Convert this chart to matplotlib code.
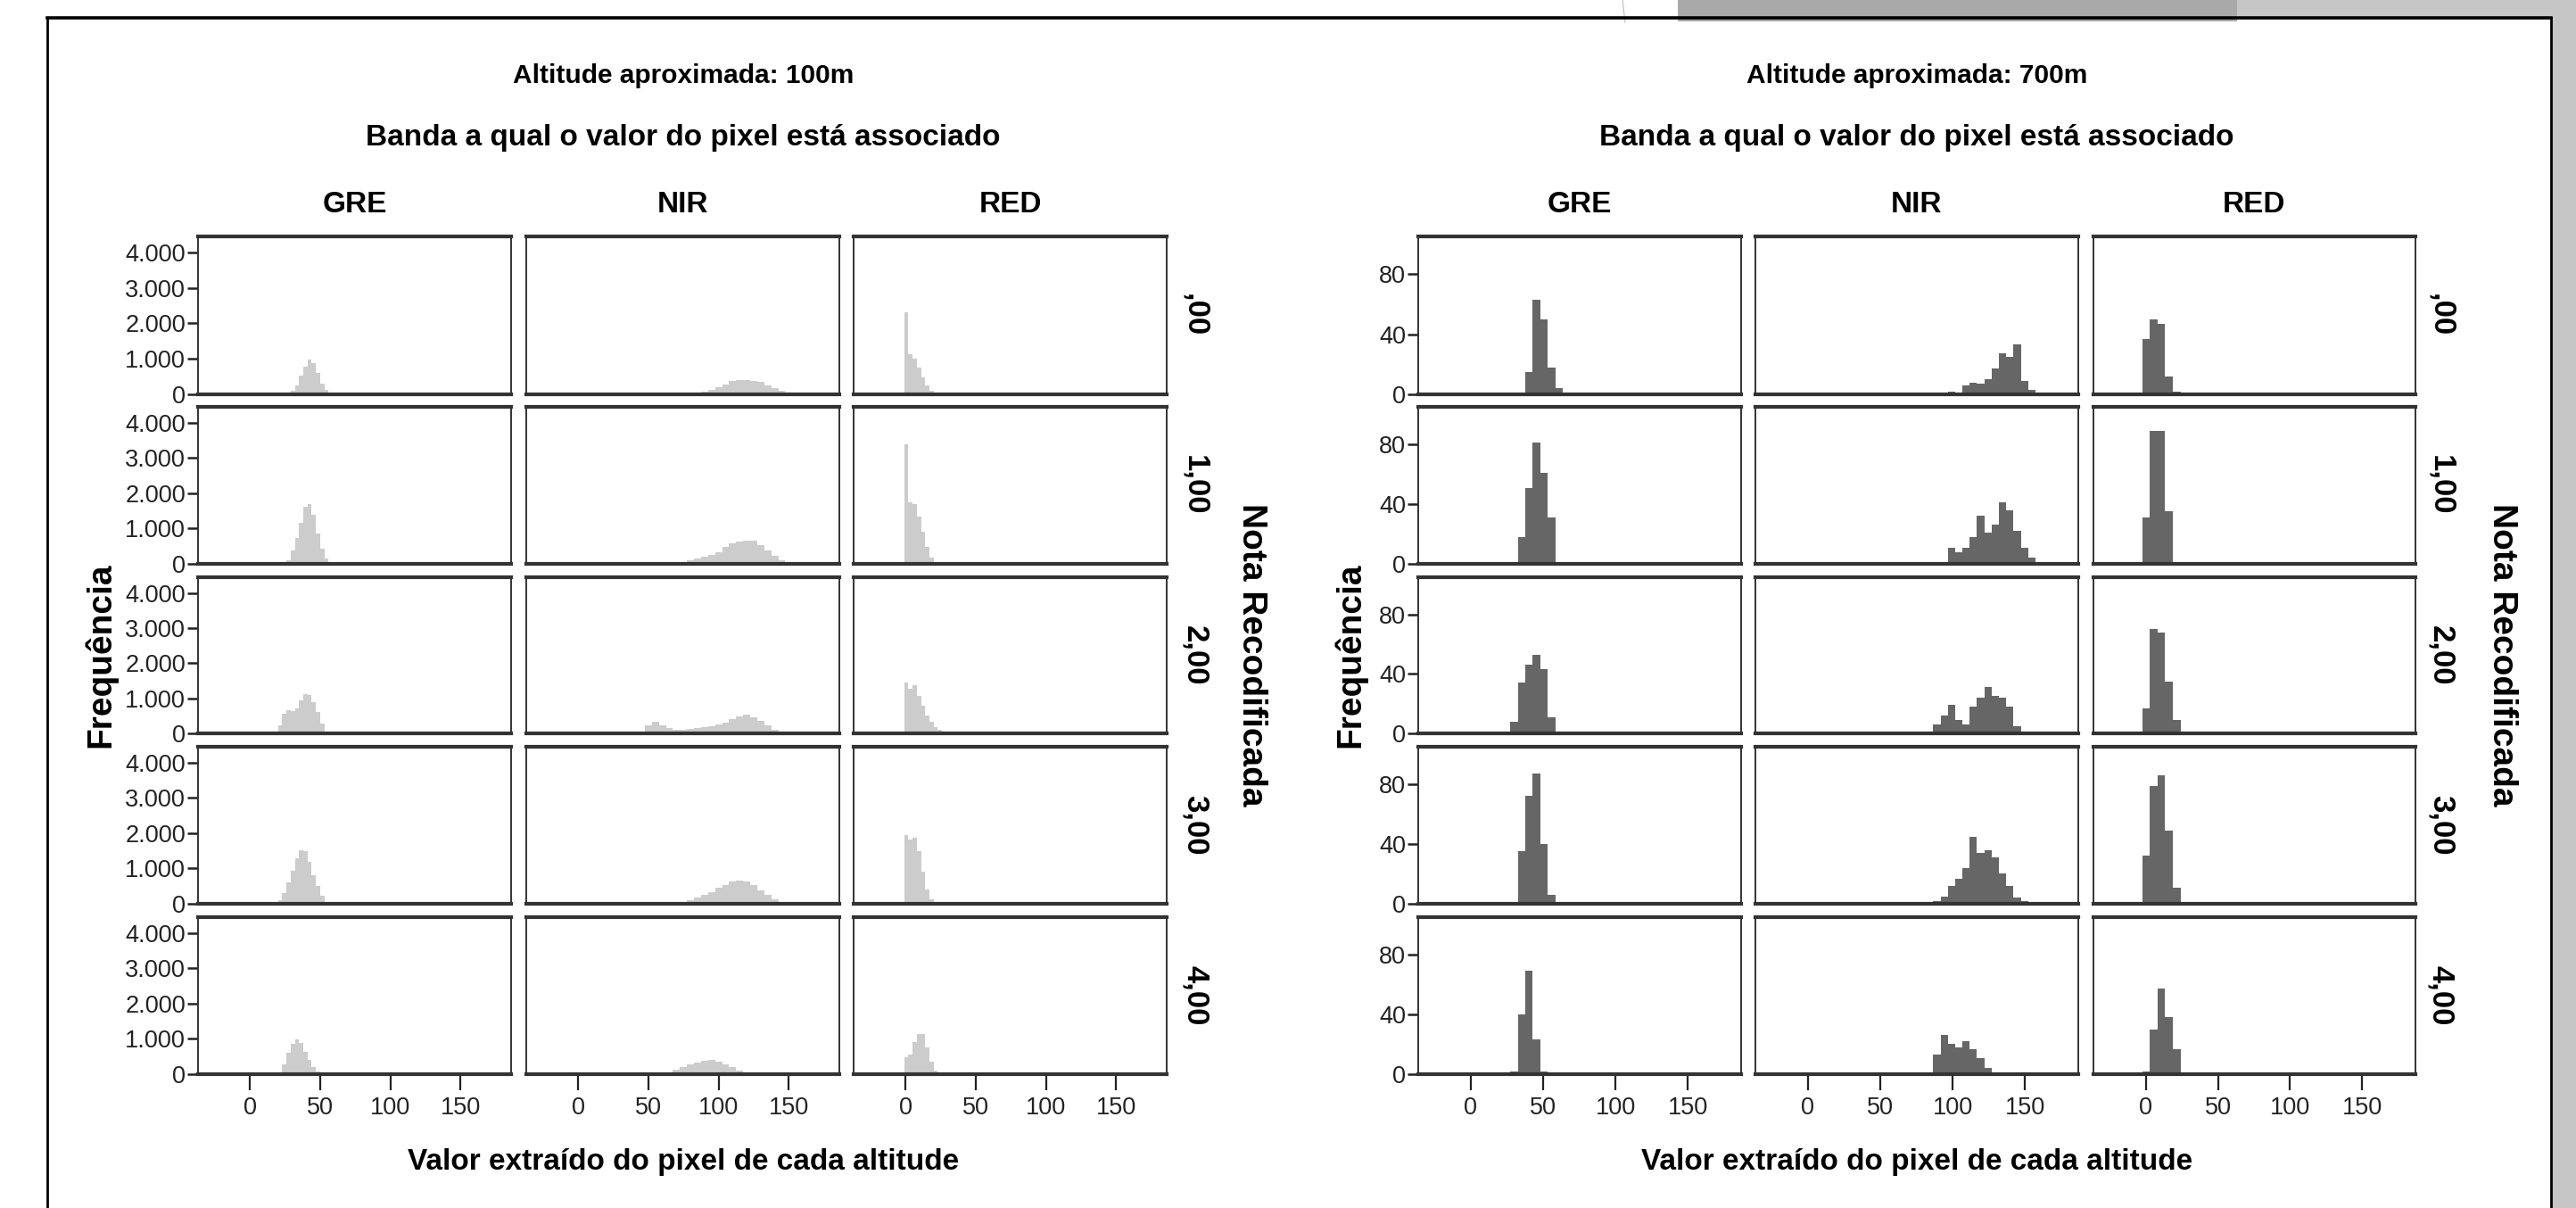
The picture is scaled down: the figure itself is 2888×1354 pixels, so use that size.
import numpy as np
import matplotlib
matplotlib.use("Agg")
import matplotlib.pyplot as plt
from matplotlib.patches import Rectangle
from matplotlib.lines import Line2D

# ---------------- data ----------------
BANDS = ["GRE", "NIR", "RED"]
ROW_LABELS = [",00", "1,00", "2,00", "3,00", "4,00"]
TITLE_100 = "Altitude aproximada: 100m"
TITLE_700 = "Altitude aproximada: 700m"
SUBTITLE = "Banda a qual o valor do pixel está associado"
XLABEL = "Valor extraído do pixel de cada altitude"
YLABEL = "Frequência"
ROWTITLE = "Nota Recodificada"

X_TICKS = [0, 50, 100, 150]
Y_TICKS_100 = [0, 1000, 2000, 3000, 4000]
Y_TICKLABELS_100 = ["0", "1.000", "2.000", "3.000", "4.000"]
Y_TICKS_700 = [0, 40, 80]

# --- 100 m (bin centres, counts per row) ---
gre100_x = [18.5, 21.5, 24.5, 27.5, 30.5, 33.5, 36.5, 39.5, 42.5, 45.5, 48.5, 51.5, 54.5, 57.5, 60.5]
gre100_w = 3.0
gre100 = [
    [0, 3, 13, 40, 110, 260, 530, 790, 990, 890, 600, 310, 115, 30, 8],
    [0, 0, 8, 100, 390, 740, 1170, 1610, 1700, 1380, 850, 430, 150, 40, 8],
    [20, 240, 560, 650, 630, 710, 940, 1130, 1090, 880, 600, 280, 60, 5, 0],
    [5, 90, 300, 610, 930, 1290, 1520, 1500, 1190, 820, 500, 230, 60, 5, 0],
    [0, 60, 290, 600, 860, 980, 880, 630, 400, 200, 80, 20, 0, 0, 0],
]
nir100_x = [45, 50, 55, 60, 65, 70, 75, 80, 85, 90, 95, 100, 105, 110, 115, 120,
            125, 130, 135, 140, 145, 150, 155]
nir100_w = 5.0
nir100 = [
    [0, 0, 0, 0, 0, 0, 0, 10, 40, 80, 130, 190, 280, 370, 400, 400, 380, 340, 260, 180, 90, 35, 10],
    [0, 0, 0, 0, 10, 30, 60, 100, 150, 200, 250, 330, 470, 570, 620, 660, 650, 530, 370, 230, 110, 40, 10],
    [40, 220, 320, 220, 140, 110, 110, 120, 140, 170, 210, 250, 300, 400, 480, 530, 470, 350, 220, 110, 40, 10, 0],
    [0, 0, 0, 0, 10, 30, 60, 110, 170, 250, 330, 450, 540, 620, 660, 620, 530, 380, 250, 130, 50, 15, 0],
    [0, 0, 0, 20, 60, 120, 200, 270, 330, 380, 400, 350, 280, 190, 110, 60, 25, 5, 0, 0, 0, 0, 0],
]
red100_x = [0.5, 3.5, 6.5, 9.5, 12.5, 15.5, 18.5, 21.5, 24.5, 27.5, 30.5, 33.5, 36.5]
red100_w = 3.0
red100 = [
    [2320, 1140, 1000, 750, 480, 250, 100, 30, 0, 0, 0, 0, 0],
    [3400, 1740, 1700, 1350, 900, 480, 170, 40, 0, 0, 0, 0, 0],
    [1450, 1270, 1370, 1070, 800, 510, 320, 190, 110, 60, 30, 10, 0],
    [1950, 1830, 1860, 1500, 900, 400, 120, 20, 0, 0, 0, 0, 0],
    [470, 560, 900, 1150, 1130, 760, 360, 110, 20, 0, 0, 0, 0],
]

# --- 700 m (bin left edges, counts per row) ---
gre700_left = [22.3, 27.45, 32.6, 37.75, 42.9, 48.05, 53.2, 58.35]
gre700_w = 5.15
gre700 = [
    [0, 0, 1, 15, 63, 50, 18, 4],
    [0, 1, 18, 51, 81, 61, 31, 0],
    [1, 8, 34, 46, 53, 43, 11, 1],
    [0, 1, 35, 72, 87, 40, 6, 0],
    [0, 2, 40, 69, 23, 2, 0, 0],
]
nir700_left = [81.6, 86.65, 91.7, 96.75, 101.8, 106.85, 111.9, 116.95, 122.0, 127.05,
               132.1, 137.15, 142.2, 147.25, 152.3, 157.35, 162.4]
nir700_w = 5.05
nir700 = [
    [0, 0, 0, 2, 0, 6, 8, 7, 10, 17, 27, 25, 33, 9, 3, 1, 0],
    [0, 0, 0, 11, 8, 11, 18, 32, 21, 26, 41, 36, 22, 11, 4, 0, 0],
    [0, 6, 12, 19, 9, 6, 18, 24, 31, 25, 24, 18, 5, 0, 0, 0, 0],
    [0, 2, 5, 12, 17, 24, 45, 34, 36, 31, 20, 12, 4, 2, 0, 0, 0],
    [1, 13, 26, 20, 18, 22, 17, 11, 4, 0, 0, 0, 0, 0, 0, 0, 0],
]
red700_left = [-2.5, 2.8, 8.1, 13.4, 18.7]
red700_w = 5.3
red700 = [
    [37, 50, 47, 12, 2],
    [31, 89, 89, 35, 1],
    [17, 70, 68, 35, 9],
    [32, 79, 86, 49, 11],
    [2, 30, 57, 38, 17],
]

# ---------------- fonts ----------------
SANS = dict(family=["Liberation Sans", "DejaVu Sans"])
BOLD = dict(family=["Liberation Sans", "DejaVu Sans"], weight="bold")

# ---------------- figure ----------------
W, H = 2888, 1354
DPI = 100
fig = plt.figure(figsize=(W / DPI, H / DPI), dpi=DPI)
fig.patch.set_facecolor("white")


def P(x, y):
    return x / W, 1 - y / H


def rect(x0, y0, x1, y1):
    return [x0 / W, 1 - y1 / H, (x1 - x0) / W, (y1 - y0) / H]


# decorations (slide frame)
fig.patches.append(Rectangle(P(1881, 24), (2508 - 1881) / W, 24 / H, transform=fig.transFigure,
                             facecolor="#a9a9a9", edgecolor="none", zorder=0))
fig.patches.append(Rectangle(P(2508, 22), (W - 2508) / W, 22 / H, transform=fig.transFigure,
                             facecolor="#c6c6c6", edgecolor="none", zorder=0))
fig.patches.append(Rectangle(P(2861, H), (W - 2861) / W, 1, transform=fig.transFigure,
                             facecolor="#c6c6c6", edgecolor="none", zorder=0))
fig.lines.append(Line2D([1819 / W, 1822 / W], [1, 1 - 25 / H], transform=fig.transFigure,
                        color="#bbbbbb", lw=0.8))
fig.lines.append(Line2D([53 / W, 2860 / W], [1 - 20 / H, 1 - 20 / H], transform=fig.transFigure,
                        color="black", lw=2.6))
fig.lines.append(Line2D([53 / W, 53 / W], [1 - 20 / H, 0], transform=fig.transFigure,
                        color="black", lw=2.0))
fig.lines.append(Line2D([2860 / W, 2860 / W], [1 - 20 / H, 0], transform=fig.transFigure,
                        color="black", lw=2.0))

ROWS = [(265, 442), (456, 632), (647, 822), (837, 1013), (1028, 1204)]
COLS_100 = [(222, 573), (590, 941), (957, 1308)]
COLS_700 = [(1590, 1952), (1968, 2330), (2347, 2708)]

SPINE_C = "#333333"


def style_axes(ax, xlim, ylim, show_y, show_x, yticks, yticklabels):
    ax.set_xlim(*xlim)
    ax.set_ylim(*ylim)
    for s in ["top", "bottom"]:
        ax.spines[s].set_linewidth(3.0)
        ax.spines[s].set_color(SPINE_C)
    for s in ["left", "right"]:
        ax.spines[s].set_linewidth(1.4)
        ax.spines[s].set_color(SPINE_C)
    ax.set_facecolor("white")
    if show_y:
        ax.set_yticks(yticks)
        ax.set_yticklabels(yticklabels, fontsize=19.5, color="#222222", **SANS)
        ax.tick_params(axis="y", length=9, width=1.8, pad=1, color="#222222")
    else:
        ax.set_yticks([])
    if show_x:
        ax.set_xticks(X_TICKS)
        ax.set_xticklabels([str(t) for t in X_TICKS], fontsize=19.5, color="#222222", **SANS)
        ax.tick_params(axis="x", length=13, width=1.6, pad=5, color="#222222")
    else:
        ax.set_xticks([])


def draw_chart(cols, data, kind, xlim, ylim, yticks, yticklabels, title, cx,
               rowlab_x, rowtitle_x, ylabel_x):
    for ci, (band, (x0, x1)) in enumerate(zip(BANDS, cols)):
        xs, w, rows = data[band]
        for ri, (y0, y1) in enumerate(ROWS):
            ax = fig.add_axes(rect(x0, y0, x1, y1))
            if kind == "centre":
                ax.bar(xs, rows[ri], width=w, align="center", color="#cccccc",
                       linewidth=0, zorder=1)
            else:
                ax.bar(xs, rows[ri], width=w, align="edge", color="#666666",
                       linewidth=0, zorder=1)
            style_axes(ax, xlim, ylim, ci == 0, ri == len(ROWS) - 1, yticks, yticklabels)
        fig.text(*P((x0 + x1) / 2, 230), band, ha="center", va="center", fontsize=24, **BOLD)
    for ri, (y0, y1) in enumerate(ROWS):
        fig.text(*P(rowlab_x, (y0 + y1) / 2), ROW_LABELS[ri], ha="center", va="center",
                 rotation=-90, fontsize=25, **BOLD)
    fig.text(*P(rowtitle_x, 734), ROWTITLE, ha="center", va="center", rotation=-90,
             fontsize=28, **BOLD)
    fig.text(*P(ylabel_x, 734), YLABEL, ha="center", va="center", rotation=90,
             fontsize=28, **BOLD)
    fig.text(*P(cx, 85), title, ha="center", va="center", fontsize=21.5, **BOLD)
    fig.text(*P(cx, 155), SUBTITLE, ha="center", va="center", fontsize=24, **BOLD)
    fig.text(*P(cx, 1302), XLABEL, ha="center", va="center", fontsize=24, **BOLD)


data100 = {"GRE": (gre100_x, gre100_w, gre100),
           "NIR": (nir100_x, nir100_w, nir100),
           "RED": (red100_x, red100_w, red100)}
data700 = {"GRE": (gre700_left, gre700_w, gre700),
           "NIR": (nir700_left, nir700_w, nir700),
           "RED": (red700_left, red700_w, red700)}

draw_chart(COLS_100, data100, "centre", (-37, 186), (0, 4450), Y_TICKS_100, Y_TICKLABELS_100,
           TITLE_100, 766, 1340, 1403, 113)
draw_chart(COLS_700, data700, "edge", (-36.4, 187), (0, 105), Y_TICKS_700,
           [str(t) for t in Y_TICKS_700], TITLE_700, 2149, 2737, 2805, 1514)

fig.savefig("out.png", dpi=DPI, facecolor="white")
